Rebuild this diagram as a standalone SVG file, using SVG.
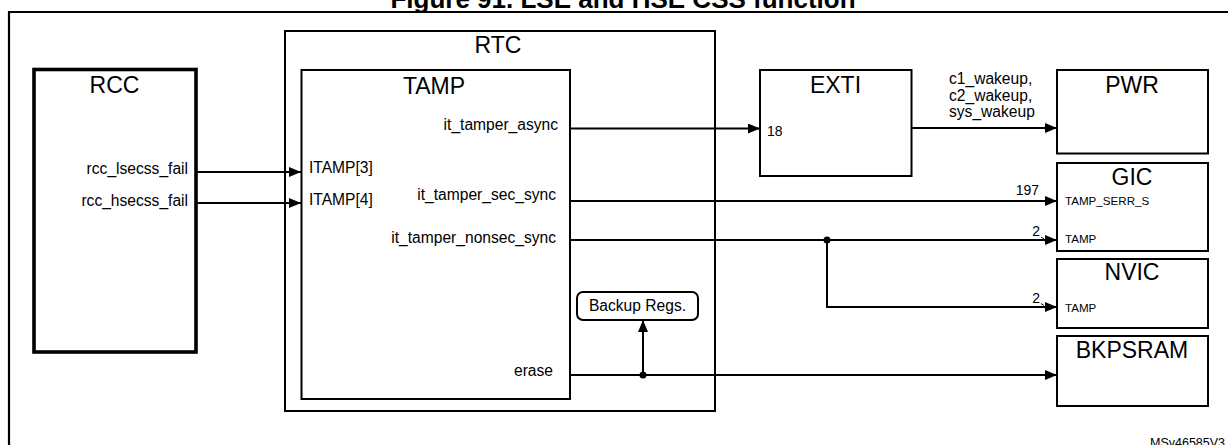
<svg xmlns="http://www.w3.org/2000/svg" width="1228" height="445" viewBox="0 0 1228 445">
<defs>
<style>
text{font-family:"Liberation Sans",Arial,sans-serif;fill:#000}
.big{font-size:23px}
.med{font-size:15.6px}
.num{font-size:14px}
.sm{font-size:11.6px}
.title{font-size:26px;font-weight:bold}
.box{fill:#fff;stroke:#000;stroke-width:2}
.wire{fill:none;stroke:#000;stroke-width:2}
</style>
<marker id="arr" viewBox="0 0 12 10" refX="12" refY="5" markerWidth="12" markerHeight="10" markerUnits="userSpaceOnUse" orient="auto">
<path d="M0,0 L12,5 L0,10 Z" fill="#000"/>
</marker>
</defs>
<rect width="1228" height="445" fill="#fff"/>
<text class="title" x="623" y="8" text-anchor="middle">Figure 91. LSE and HSE CSS function</text>
<path d="M9,450 V12 H1232" fill="none" stroke="#000" stroke-width="2.2"/>

<g id="rcc">
<rect x="34" y="69.5" width="162" height="282.5" fill="#fff" stroke="#000" stroke-width="3.6"/>
<text class="big" x="114.5" y="93" text-anchor="middle">RCC</text>
<text class="med" x="188" y="174" text-anchor="end">rcc_lsecss_fail</text>
<text class="med" x="188" y="206" text-anchor="end">rcc_hsecss_fail</text>
</g>

<g id="rtc">
<rect class="box" x="285" y="31" width="430" height="380"/>
<text class="big" x="498" y="53" text-anchor="middle">RTC</text>
</g>

<g id="tamp">
<rect class="box" x="301.5" y="70" width="268.5" height="329"/>
<text class="big" x="434" y="94" text-anchor="middle">TAMP</text>
<text class="med" x="309" y="173">ITAMP[3]</text>
<text class="med" x="309" y="205">ITAMP[4]</text>
<text class="med" x="558" y="130" text-anchor="end">it_tamper_async</text>
<text class="med" x="556" y="200" text-anchor="end">it_tamper_sec_sync</text>
<text class="med" x="556" y="243" text-anchor="end">it_tamper_nonsec_sync</text>
<text class="med" x="553" y="376" text-anchor="end">erase</text>
</g>

<g id="backup">
<rect x="577" y="292" width="121" height="28" rx="6" fill="#fff" stroke="#000" stroke-width="2"/>
<text class="med" x="637.5" y="311" text-anchor="middle">Backup Regs.</text>
</g>

<g id="exti">
<rect class="box" x="760" y="70" width="151.5" height="106"/>
<text class="big" x="835.5" y="93" text-anchor="middle">EXTI</text>
<text class="num" x="767" y="136">18</text>
</g>

<g id="pwr">
<rect class="box" x="1057" y="70" width="151" height="83.5"/>
<text class="big" x="1132" y="93" text-anchor="middle">PWR</text>
</g>

<g id="gic">
<rect class="box" x="1057" y="163" width="151" height="88"/>
<text class="big" x="1132" y="185" text-anchor="middle">GIC</text>
<text class="sm" x="1065" y="205">TAMP_SERR_S</text>
<text class="sm" x="1065" y="243">TAMP</text>
</g>

<g id="nvic">
<rect class="box" x="1057" y="259" width="151" height="69"/>
<text class="big" x="1132" y="280" text-anchor="middle">NVIC</text>
<text class="sm" x="1065" y="312">TAMP</text>
</g>

<g id="bkpsram">
<rect class="box" x="1057" y="336" width="151" height="70"/>
<text class="big" x="1132" y="358" text-anchor="middle">BKPSRAM</text>
</g>

<g id="connectors">
<path class="wire" d="M197,172 H301" marker-end="url(#arr)"/>
<path class="wire" d="M197,203 H301" marker-end="url(#arr)"/>
<path class="wire" d="M570,128.5 H760" marker-end="url(#arr)"/>
<path class="wire" d="M911.5,128 H1057" marker-end="url(#arr)"/>
<path class="wire" d="M570,201 H1057" marker-end="url(#arr)"/>
<path class="wire" d="M570,240 H1057" marker-end="url(#arr)"/>
<path class="wire" d="M827,240 V307 H1057" marker-end="url(#arr)"/>
<path class="wire" d="M570,375 H1057" marker-end="url(#arr)"/>
<path class="wire" d="M643,375 V320" marker-end="url(#arr)"/>
<circle cx="827" cy="240" r="3.5" fill="#000"/>
<circle cx="643" cy="375" r="3.5" fill="#000"/>
<text class="med" x="949" y="84">c1_wakeup,</text>
<text class="med" x="949" y="101">c2_wakeup,</text>
<text class="med" x="949" y="117">sys_wakeup</text>
<text class="num" x="1039" y="195" text-anchor="end">197</text>
<text class="num" x="1040" y="236" text-anchor="end">2</text>
<path d="M1041,237 L1044,239" stroke="#000" stroke-width="1"/>
<text class="num" x="1040" y="302.5" text-anchor="end">2</text>
<path d="M1041,303.5 L1044,305.5" stroke="#000" stroke-width="1"/>
</g>

<text x="1150" y="447" style="font-size:12.5px">MSv46585V3</text>
</svg>
